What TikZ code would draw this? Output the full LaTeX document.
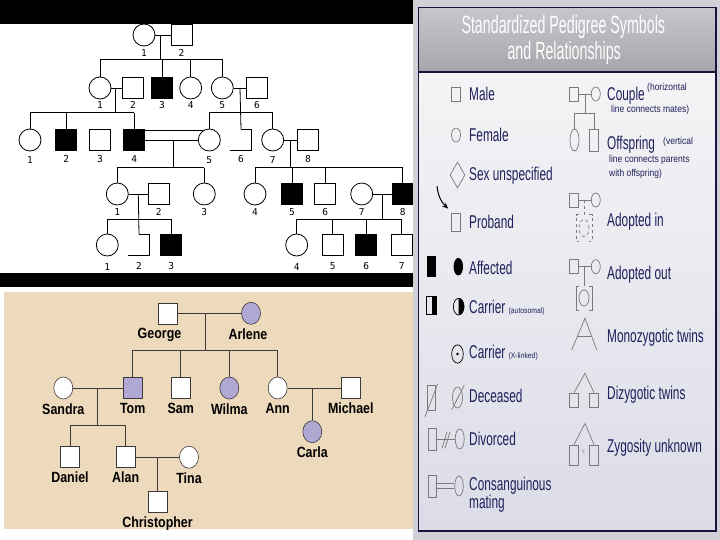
\documentclass[tikz,border=0pt]{standalone}
\usepackage{fontspec}
\setmainfont{Liberation Sans}
\newfontfamily\pixfont{DejaVu Sans Mono}
\newfontfamily\namefont[FakeStretch=0.84]{Liberation Sans}
\newfontfamily\narrowfont[FakeStretch=0.64]{Liberation Sans}
\newfontfamily\titlefont[FakeStretch=0.57]{Liberation Sans}
\newfontfamily\notefont[FakeStretch=0.85]{Liberation Sans}
\usetikzlibrary{arrows.meta,positioning,shapes.geometric,calc}
\definecolor{Tan}{HTML}{EDD9BC}
\definecolor{Lilac}{HTML}{B1A7D3}
\definecolor{Navy}{HTML}{1F1F5C}
\definecolor{Frame}{HTML}{14143C}
\definecolor{Sym}{HTML}{7A7A7A}
\definecolor{Side}{HTML}{D0D0D6}
\definecolor{HeadTop}{HTML}{C6C6CC}
\definecolor{HeadBot}{HTML}{A6A6AA}
\definecolor{BodyTop}{HTML}{F4F4F6}
\definecolor{BodyBot}{HTML}{DCDCE8}
\definecolor{Ink}{HTML}{3A3A3A}
\tikzset{
  pmale/.style={draw,line width=0.8pt,minimum size=21pt,inner sep=0pt},
  pfem/.style={pmale,circle,minimum size=22pt},
  paff/.style={pmale,fill=black},
  popen/.style={minimum size=21pt,inner sep=0pt},
  pline/.style={line width=0.8pt},
  pnum/.style={font=\pixfont\fontsize{9.5}{10}\selectfont,inner sep=0pt},
  fmale/.style={draw=Ink,fill=white,line width=0.6pt,minimum width=19pt,minimum height=21pt,inner sep=0pt},
  ffem/.style={fmale,ellipse,minimum height=22pt},
  fname/.style={font=\namefont\bfseries\fontsize{14.8}{15}\selectfont,inner sep=0pt},
  fline/.style={draw=Ink,line width=0.6pt},
  lsym/.style={draw=Sym,line width=0.7pt,inner sep=0pt},
  lbox/.style={lsym,minimum width=9pt,minimum height=14pt},
  lround/.style={lsym,ellipse,minimum width=9pt,minimum height=14pt},
  llink/.style={draw=Sym,line width=0.7pt},
  lbig/.style={font=\narrowfont\fontsize{18.5}{20}\selectfont,text=Navy,anchor=base west,inner sep=0pt},
  lnote/.style={font=\notefont\fontsize{10}{12}\selectfont,text=Navy,anchor=base west,inner sep=0pt},
  ltitle/.style={font=\titlefont\fontsize{25}{26}\selectfont,text=white,inner sep=0pt}
}
\begin{document}
\begin{tikzpicture}[x=1pt,y=-1pt,label distance=3pt]
\useasboundingbox (0,0) rectangle (720,540);
\fill[white] (0,0) rectangle (413,540);
\fill[black] (0,0) rectangle (413,24);
\fill[black] (0,273.3) rectangle (413,286.7);
\fill[Tan] (4,292.3) rectangle (413,529);

% classic pedigree
\node[pfem,label={[pnum]below:1}] (I1) at (144,35) {};
\node[pmale,label={[pnum]below:2}] (I2) at (181.5,35) {};
\begin{scope}[label distance=2pt]
\node[pfem,label={[pnum]below:1}] (II1) at (100,88) {};
\node[pmale,label={[pnum]below:2}] (II2) at (133,88) {};
\node[paff,label={[pnum]below:3}] (II3) at (162,88) {};
\node[pfem,label={[pnum]below:4}] (II4) at (190.7,88) {};
\node[pfem,label={[pnum]below:5}] (II5) at (222.3,88) {};
\node[pmale,label={[pnum]below:6}] (II6) at (257,88) {};
\end{scope}
\begin{scope}[label distance=4.5pt]
\node[pfem,label={[pnum]below:1}] (III1) at (30,140) {};
\node[paff,label={[pnum]below:2}] (III2) at (66.3,140) {};
\node[pmale,label={[pnum]below:3}] (III3) at (100,140) {};
\node[paff,label={[pnum]below:4}] (III4) at (134.3,140) {};
\node[pfem,label={[pnum]below:5}] (III5) at (209.3,140) {};
\node[popen,label={[pnum]below:6}] (III6) at (241,140) {};
\node[pfem,label={[pnum]below:7}] (III7) at (272.7,140) {};
\node[pmale,label={[pnum]below:8}] (III8) at (308,140) {};
\end{scope}
\node[pfem,label={[pnum]below:1}] (IV1) at (117.3,194) {};
\node[pmale,label={[pnum]below:2}] (IV2) at (158.7,194) {};
\node[pfem,label={[pnum]below:3}] (IV3) at (204.3,194) {};
\node[pfem,label={[pnum]below:4}] (IV4) at (255,194) {};
\node[paff,label={[pnum]below:5}] (IV5) at (292,194) {};
\node[pmale,label={[pnum]below:6}] (IV6) at (325.3,194) {};
\node[pfem,label={[pnum]below:7}] (IV7) at (361.7,194) {};
\node[paff,label={[pnum]below:8}] (IV8) at (402.8,194) {};
\begin{scope}[label distance=6.5pt]
\node[pfem,label={[pnum]below:1}] (V1) at (107.3,245) {};
\node[popen,label={[pnum]below:2}] (V2) at (139,245) {};
\node[paff,label={[pnum]below:3}] (V3) at (171.2,245) {};
\node[pfem,label={[pnum]below:4}] (V4) at (296.7,245) {};
\node[pmale,label={[pnum]below:5}] (V5) at (332.8,245) {};
\node[paff,label={[pnum]below:6}] (V6) at (366.3,245) {};
\node[pmale,label={[pnum]below:7}] (V7) at (401.7,245) {};
\end{scope}
\draw[pline] (III6.north) -- (III6.north east) -- (III6.south east) -- (III6.south west);
\draw[pline] (V2.north) -- (V2.north east) -- (V2.south east) -- (V2.south west);

\coordinate (sI) at (160.7,59.3);
\coordinate (sIIa) at (115.3,112.7);
\coordinate (sIIb) at (240,112.7);
\coordinate (sIIIa) at (173.3,167.7);
\coordinate (sIIIb) at (290.7,167.7);
\coordinate (sIVa) at (138.3,219.3);
\coordinate (sIVb) at (382.7,219.3);
\draw[pline] (I1) -- (I2);
\draw[pline] (sI |- I1) -- (sI);
\draw[pline] (II1 |- sI) -- (II5 |- sI);
\foreach \k in {II1,II3,II4,II5} \draw[pline] (\k |- sI) -- (\k);
\draw[pline] (II1) -- (II2);
\draw[pline] (sIIa |- II1) -- (sIIa);
\draw[pline] (III1 |- sIIa) -- (III4 |- sIIa);
\foreach \k in {III1,III2,III4} \draw[pline] (\k |- sIIa) -- (\k);
\draw[pline] (II5) -- (II6);
\draw[pline] (sIIb |- II5) -- (III6.north);
\draw[pline] (III5 |- sIIb) -- (III7 |- sIIb);
\foreach \k in {III5,III7} \draw[pline] (\k |- sIIb) -- (\k);
\draw[pline] (III4) -- (III5);
\draw[pline] (III4.east |- III5.122) -- (III5.122);
\draw[pline] (sIIIa |- III4) -- (sIIIa);
\draw[pline] (IV1 |- sIIIa) -- (IV3 |- sIIIa);
\foreach \k in {IV1,IV3} \draw[pline] (\k |- sIIIa) -- (\k);
\draw[pline] (III7) -- (III8);
\draw[pline] (sIIIb |- III7) -- (sIIIb);
\draw[pline] (IV4 |- sIIIb) -- (IV8 |- sIIIb);
\foreach \k in {IV4,IV5,IV6,IV8} \draw[pline] (\k |- sIIIb) -- (\k);
\draw[pline] (IV1) -- (IV2);
\draw[pline] (sIVa |- IV1) -- (V2.north);
\draw[pline] (V1 |- sIVa) -- (V3 |- sIVa);
\foreach \k in {V1,V3} \draw[pline] (\k |- sIVa) -- (\k);
\draw[pline] (IV7) -- (IV8);
\draw[pline] (sIVb |- IV7) -- (sIVb);
\draw[pline] (V4 |- sIVb) -- (V7 |- sIVb);
\foreach \k in {V4,V5,V6,V7} \draw[pline] (\k |- sIVb) -- (\k);

% named family
\begin{scope}[label distance=4pt]
\node[fmale,label={[fname,xshift=-8pt]below:George}] (George) at (167.5,313.3) {};
\node[ffem,fill=Lilac,label={[fname,xshift=-3pt]below:Arlene}] (Arlene) at (251,313.3) {};
\node[ffem,label={[fname]below:Sandra}] (Sandra) at (63.3,388) {};
\node[fmale,fill=Lilac,label={[fname]below:Tom}] (Tom) at (132.7,388) {};
\node[fmale,label={[fname]below:Sam}] (Sam) at (180.7,388) {};
\node[ffem,fill=Lilac,label={[fname]below:Wilma}] (Wilma) at (229.3,388) {};
\node[ffem,label={[fname]below:Ann}] (Ann) at (277.7,388) {};
\node[fmale,label={[fname]below:Michael}] (Michael) at (350.8,388) {};
\node[ffem,fill=Lilac,label={[fname]below:Carla}] (Carla) at (312.3,431.7) {};
\node[fmale,label={[fname]below:Daniel}] (Daniel) at (70,457.2) {};
\node[fmale,label={[fname]below:Alan}] (Alan) at (125.7,457.2) {};
\node[ffem,label={[fname]below:Tina}] (Tina) at (189,457.2) {};
\node[fmale,label={[fname]below:Christopher}] (Christopher) at (157.5,502) {};
\end{scope}
\coordinate (sGA) at (205,350);
\coordinate (sST) at (97.3,425);
\draw[fline] (George) -- (Arlene);
\draw[fline] (sGA |- George) -- (sGA);
\draw[fline] (Tom |- sGA) -- (Ann |- sGA);
\foreach \k in {Tom,Sam,Wilma,Ann} \draw[fline] (\k |- sGA) -- (\k);
\draw[fline] (Sandra) -- (Tom);
\draw[fline] (sST |- Tom) -- (sST);
\draw[fline] (Daniel |- sST) -- (Alan |- sST);
\foreach \k in {Daniel,Alan} \draw[fline] (\k |- sST) -- (\k);
\draw[fline] (Alan) -- (Tina);
\draw[fline] (Christopher |- Alan) -- (Christopher);
\draw[fline] (Ann) -- (Michael);
\draw[fline] (Carla |- Ann) -- (Carla);

% symbol chart
\fill[Side] (413,0) rectangle (720,540);
\shade[top color=HeadTop,bottom color=HeadBot] (418.3,7.3) rectangle (716,72);
\shade[top color=BodyTop,bottom color=BodyBot] (418.3,72) rectangle (716,531);
\draw[Frame,line width=1.5pt] (418.3,7.3) rectangle (716,531);
\draw[Frame,line width=1.5pt] (418.3,72) -- (716,72);
\node[ltitle] (title1) at (563.3,27) {Standardized Pedigree Symbols};
\node[ltitle] (title2) at (564.2,53) {and Relationships};

\node[lbox] (kMale) at (456,94) {};
\node[lround] (kFemale) at (456,135) {};
\node[lsym,diamond,minimum width=15pt,minimum height=26pt] (kSex) at (457.5,175) {};
\node[lbox,minimum height=18pt] (kProband) at (456,222) {};
\coordinate (kArrow) at (437,186);
\draw[-{Stealth[length=6pt,width=5pt]},line width=1pt] (kArrow) to[bend right=20] ([xshift=-3pt,yshift=4pt]kProband.north west);
\node[lsym,draw=black,fill=black,minimum width=7.7pt,minimum height=19.3pt] (kAffM) at (431.2,266.3) {};
\node[lsym,draw=black,fill=black,ellipse,minimum width=8.7pt,minimum height=16.7pt] (kAffF) at (458.3,266.7) {};
\node[lsym,draw=black,minimum width=10pt,minimum height=17.3pt] (kCarM) at (431.7,305.3) {};
\fill[black] (kCarM.north) rectangle (kCarM.south east);
\node[lsym,draw=black,ellipse,minimum width=10.7pt,minimum height=16.7pt] (kCarF) at (458.7,306.7) {};
\fill[black] (kCarF.north) arc[start angle=90,end angle=-90,x radius=5.35pt,y radius=8.35pt] -- cycle;
\node[lsym,draw=black,ellipse,minimum width=11.6pt,minimum height=18.3pt] (kXF) at (457.5,354) {};
\fill[black] (kXF.center) circle (1.4pt);
\node[lbox,minimum width=8pt,minimum height=25pt] (kDecM) at (431.7,397.5) {};
\draw[llink] ([shift={(-6.7,19.2)}]kDecM.center) -- ([shift={(6,-13.5)}]kDecM.center);
\node[lround,minimum width=10pt,minimum height=21pt] (kDecF) at (457.5,397.5) {};
\draw[llink] ([shift={(-5.8,12.5)}]kDecF.center) -- ([shift={(6.8,-12.5)}]kDecF.center);
\node[lbox,minimum width=8.4pt,minimum height=21.7pt] (kDivM) at (432.5,439) {};
\node[lround,minimum height=20pt] (kDivF) at (459.7,439) {};
\draw[llink] (kDivM) -- (kDivF);
\draw[llink] ([shift={(5,9.3)}]kDivM.east) -- ([shift={(10,-7.3)}]kDivM.east);
\draw[llink] ([shift={(8,9.3)}]kDivM.east) -- ([shift={(13,-7.3)}]kDivM.east);
\node[lbox,minimum width=8.4pt,minimum height=21.7pt] (kConM) at (432.5,486) {};
\node[lround,minimum width=8.5pt,minimum height=20pt] (kConF) at (459,486) {};
\draw[llink] ([yshift=2.5pt]kConM.east) -- ([yshift=2.5pt]kConF.west);
\draw[llink] ([yshift=-2.5pt]kConM.east) -- ([yshift=-2.5pt]kConF.west);

\node[lbig] (tMale) at (469,100.7) {Male};
\node[lbig] (tFemale) at (469,141.7) {Female};
\node[lbig] (tSex) at (469,181) {Sex unspecified};
\node[lbig] (tProband) at (469,228.3) {Proband};
\node[lbig] (tAff) at (469,274) {Affected};
\node[lbig] (tCarA) at (469,313.3) {Carrier \notefont\fontsize{8}{9}\selectfont(autosomal)};
\node[lbig] (tCarX) at (469,358.3) {Carrier \notefont\fontsize{8}{9}\selectfont(X-linked)};
\node[lbig] (tDec) at (469,402.6) {Deceased};
\node[lbig] (tDiv) at (469,445) {Divorced};
\node[lbig] (tCon) at (469,490) {Consanguinous};
\node[lbig] (tCon2) at (469,508) {mating};

\node[lbox] (kCoupM) at (574.2,94) {};
\node[lround] (kCoupF) at (595.8,94) {};
\coordinate (kOff) at (585,113);
\draw[llink] (kCoupM) -- (kCoupF);
\draw[llink] (kOff |- kCoupM) -- (kOff);
\node[lround,minimum height=22pt] (kOffF) at (574.5,140) {};
\node[lbox,minimum height=22pt] (kOffM) at (594,140) {};
\draw[llink] (kOffF |- kOff) -- (kOffM |- kOff);
\foreach \k in {kOffF,kOffM} \draw[llink] (\k |- kOff) -- (\k);

\node[lbox] (kInM) at (574.2,200) {};
\node[lround] (kInF) at (595.8,200) {};
\draw[llink] (kInM) -- (kInF);
\node[lsym,draw=none,minimum width=15pt,minimum height=26pt] (kInB) at (584,228) {};
\node[lround,dashed,minimum width=10pt,minimum height=17pt] (kInC) at (584,228) {};
\draw[llink,dashed] (kInB |- kInM) -- (kInB.north);
\draw[llink,dashed] ([xshift=2.5pt]kInB.north west) -- (kInB.north west) -- (kInB.south west) -- ([xshift=2.5pt]kInB.south west);
\draw[llink,dashed] ([xshift=-2.5pt]kInB.north east) -- (kInB.north east) -- (kInB.south east) -- ([xshift=-2.5pt]kInB.south east);

\node[lbox] (kOutM) at (574.2,266.7) {};
\node[lround] (kOutF) at (595.8,266.7) {};
\draw[llink] (kOutM) -- (kOutF);
\node[lsym,draw=none,minimum width=15pt,minimum height=23pt] (kOutB) at (584,298) {};
\node[lround,minimum width=10pt,minimum height=16pt] (kOutC) at (584,298) {};
\draw[llink] (kOutB |- kOutM) -- (kOutB.north);
\draw[llink] ([xshift=2.5pt]kOutB.north west) -- (kOutB.north west) -- (kOutB.south west) -- ([xshift=2.5pt]kOutB.south west);
\draw[llink] ([xshift=-2.5pt]kOutB.north east) -- (kOutB.north east) -- (kOutB.south east) -- ([xshift=-2.5pt]kOutB.south east);

\coordinate (kMonoTop) at (585,318.3);
\coordinate (kMonoL) at (571.7,350);
\coordinate (kMonoR) at (596.7,350);
\draw[llink] (kMonoL) -- (kMonoTop) -- (kMonoR);
\draw[llink] ($(kMonoTop)!0.58!(kMonoL)$) -- ($(kMonoTop)!0.58!(kMonoR)$);

\coordinate (kDiTop) at (585,373.3);
\node[lbox] (kDiM) at (574,400) {};
\node[lbox] (kDiN) at (594,400) {};
\draw[llink] (kDiM.north) -- (kDiTop) -- (kDiN.north);

\coordinate (kZyTop) at (585,423.3);
\node[lbox,minimum height=20pt] (kZyM) at (574,455) {};
\node[lbox,minimum height=20pt] (kZyN) at (594,455) {};
\draw[llink] (kZyM.north) -- (kZyTop) -- (kZyN.north);
\node[font=\notefont\fontsize{6}{6}\selectfont,text=Sym,inner sep=0pt] (kZyQ) at (583.3,452) {?};

\node[lbig] (tCouple) at (607,100.6) {Couple};
\node[lnote] (tCoupleA) at (647,90.5) {(horizontal};
\node[lnote] (tCoupleB) at (611,113) {line connects mates)};
\node[lbig] (tOff) at (607,150) {Offspring};
\node[lnote] (tOffA) at (663,145) {(vertical};
\node[lnote] (tOffB) at (609,163) {line connects parents};
\node[lnote] (tOffC) at (609,177) {with offspring)};
\node[lbig] (tIn) at (607,226) {Adopted in};
\node[lbig] (tOut) at (607,279) {Adopted out};
\node[lbig] (tMono) at (607,342) {Monozygotic twins};
\node[lbig] (tDi) at (607,399) {Dizygotic twins};
\node[lbig] (tZy) at (607,452) {Zygosity unknown};
\end{tikzpicture}
\end{document}
